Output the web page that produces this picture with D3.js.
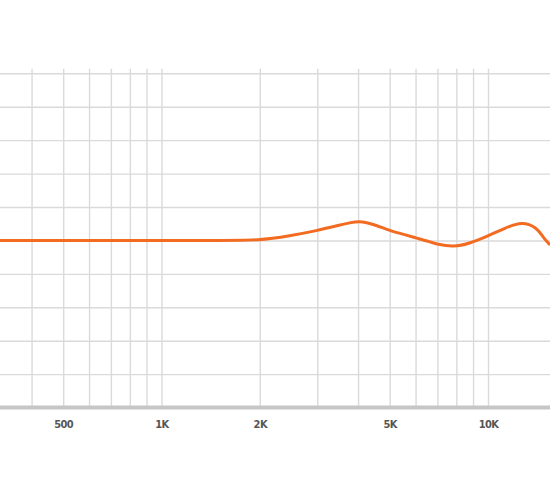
<!DOCTYPE html>
<html lang="en">
<head>
    <meta charset="UTF-8">
    <title>Frequency Response</title>
    <script src="https://d3js.org/d3.v7.min.js"></script>
    <style>
        html, body {
            margin: 0;
            padding: 0;
            background: #fff;
        }

        .grid line {
            stroke: #dadada;
            stroke-width: 1.4px;
        }

        .grid .domain {
            display: none;
        }

        .x-labels text {
            font-family: "DejaVu Sans", sans-serif;
            font-stretch: condensed;
            font-weight: bold;
            font-size: 11px;
            letter-spacing: -0.6px;
            fill: #555;
        }
    </style>
</head>
<body>

<div id="chart"></div>

<script>
    // Response curve (Hz / dB)
    const freqs = [320, 500, 1000, 1500, 2000, 2475, 2988, 3521, 3800, 4110, 4565, 4957, 5534, 6053, 6650, 6970, 7824, 8820, 10000, 11273, 12693, 14115, 14700, 15484];
    const gains = [0, 0, 0, 0, 0, 0.7, 1.46, 2.3, 2.7, 2.9, 2.25, 1.55, 0.88, 0.35, -0.2, -0.55, -1.0, -0.43, 0.67, 1.85, 2.85, 1.95, 0.56, -0.68];

    // Grid lines and labels
    const gridFreqs = [400, 500, 600, 700, 800, 900, 1000, 2000, 3000, 4000, 5000, 6000, 7000, 8000, 9000, 10000];
    const labelFreqs = [500, 1000, 2000, 5000, 10000];
    const labelText = ["500", "1K", "2K", "5K", "10K"];
    const gainTicks = [-20, -15, -10, -5, 0, 5, 10, 15, 20, 25];

    const width = 550, height = 482;
    const plotTop = 73.3, plotBottom = 407.6;

    const x = d3.scaleLog().domain([320.2, 15484]).range([0, width]);
    const y = d3.scaleLinear().domain([-25, 25]).range([plotBottom, plotTop]);

    const svg = d3.select("#chart")
        .append("svg")
        .attr("width", width)
        .attr("height", height);

    // horizontal grid
    svg.append("g")
        .attr("class", "grid")
        .call(d3.axisLeft(y).tickValues(gainTicks).tickSize(-width).tickFormat(""));

    // vertical grid
    svg.append("g")
        .attr("class", "grid")
        .attr("transform", `translate(0,${plotBottom})`)
        .call(d3.axisBottom(x).tickValues(gridFreqs).tickSize(-(plotBottom - plotTop + 4.5)).tickFormat(""));

    // bottom axis bar
    svg.append("line")
        .attr("x1", 0).attr("x2", width)
        .attr("y1", plotBottom).attr("y2", plotBottom)
        .attr("stroke", "#c6c6c6")
        .attr("stroke-width", 4);

    // labels
    const labels = svg.append("g")
        .attr("class", "x-labels")
        .attr("transform", `translate(0,${plotBottom + 10})`)
        .call(d3.axisBottom(x).tickValues(labelFreqs).tickSize(0)
            .tickFormat((d, i) => labelText[i]));
    labels.select(".domain").remove();

    // response curve
    const line = d3.line()
        .x((d, i) => x(freqs[i]))
        .y(d => y(d))
        .curve(d3.curveBasis);

    svg.append("path")
        .datum(gains)
        .attr("fill", "none")
        .attr("stroke", "#f26b21")
        .attr("stroke-width", 3)
        .attr("stroke-linejoin", "round")
        .attr("d", line);
</script>

</body>
</html>
